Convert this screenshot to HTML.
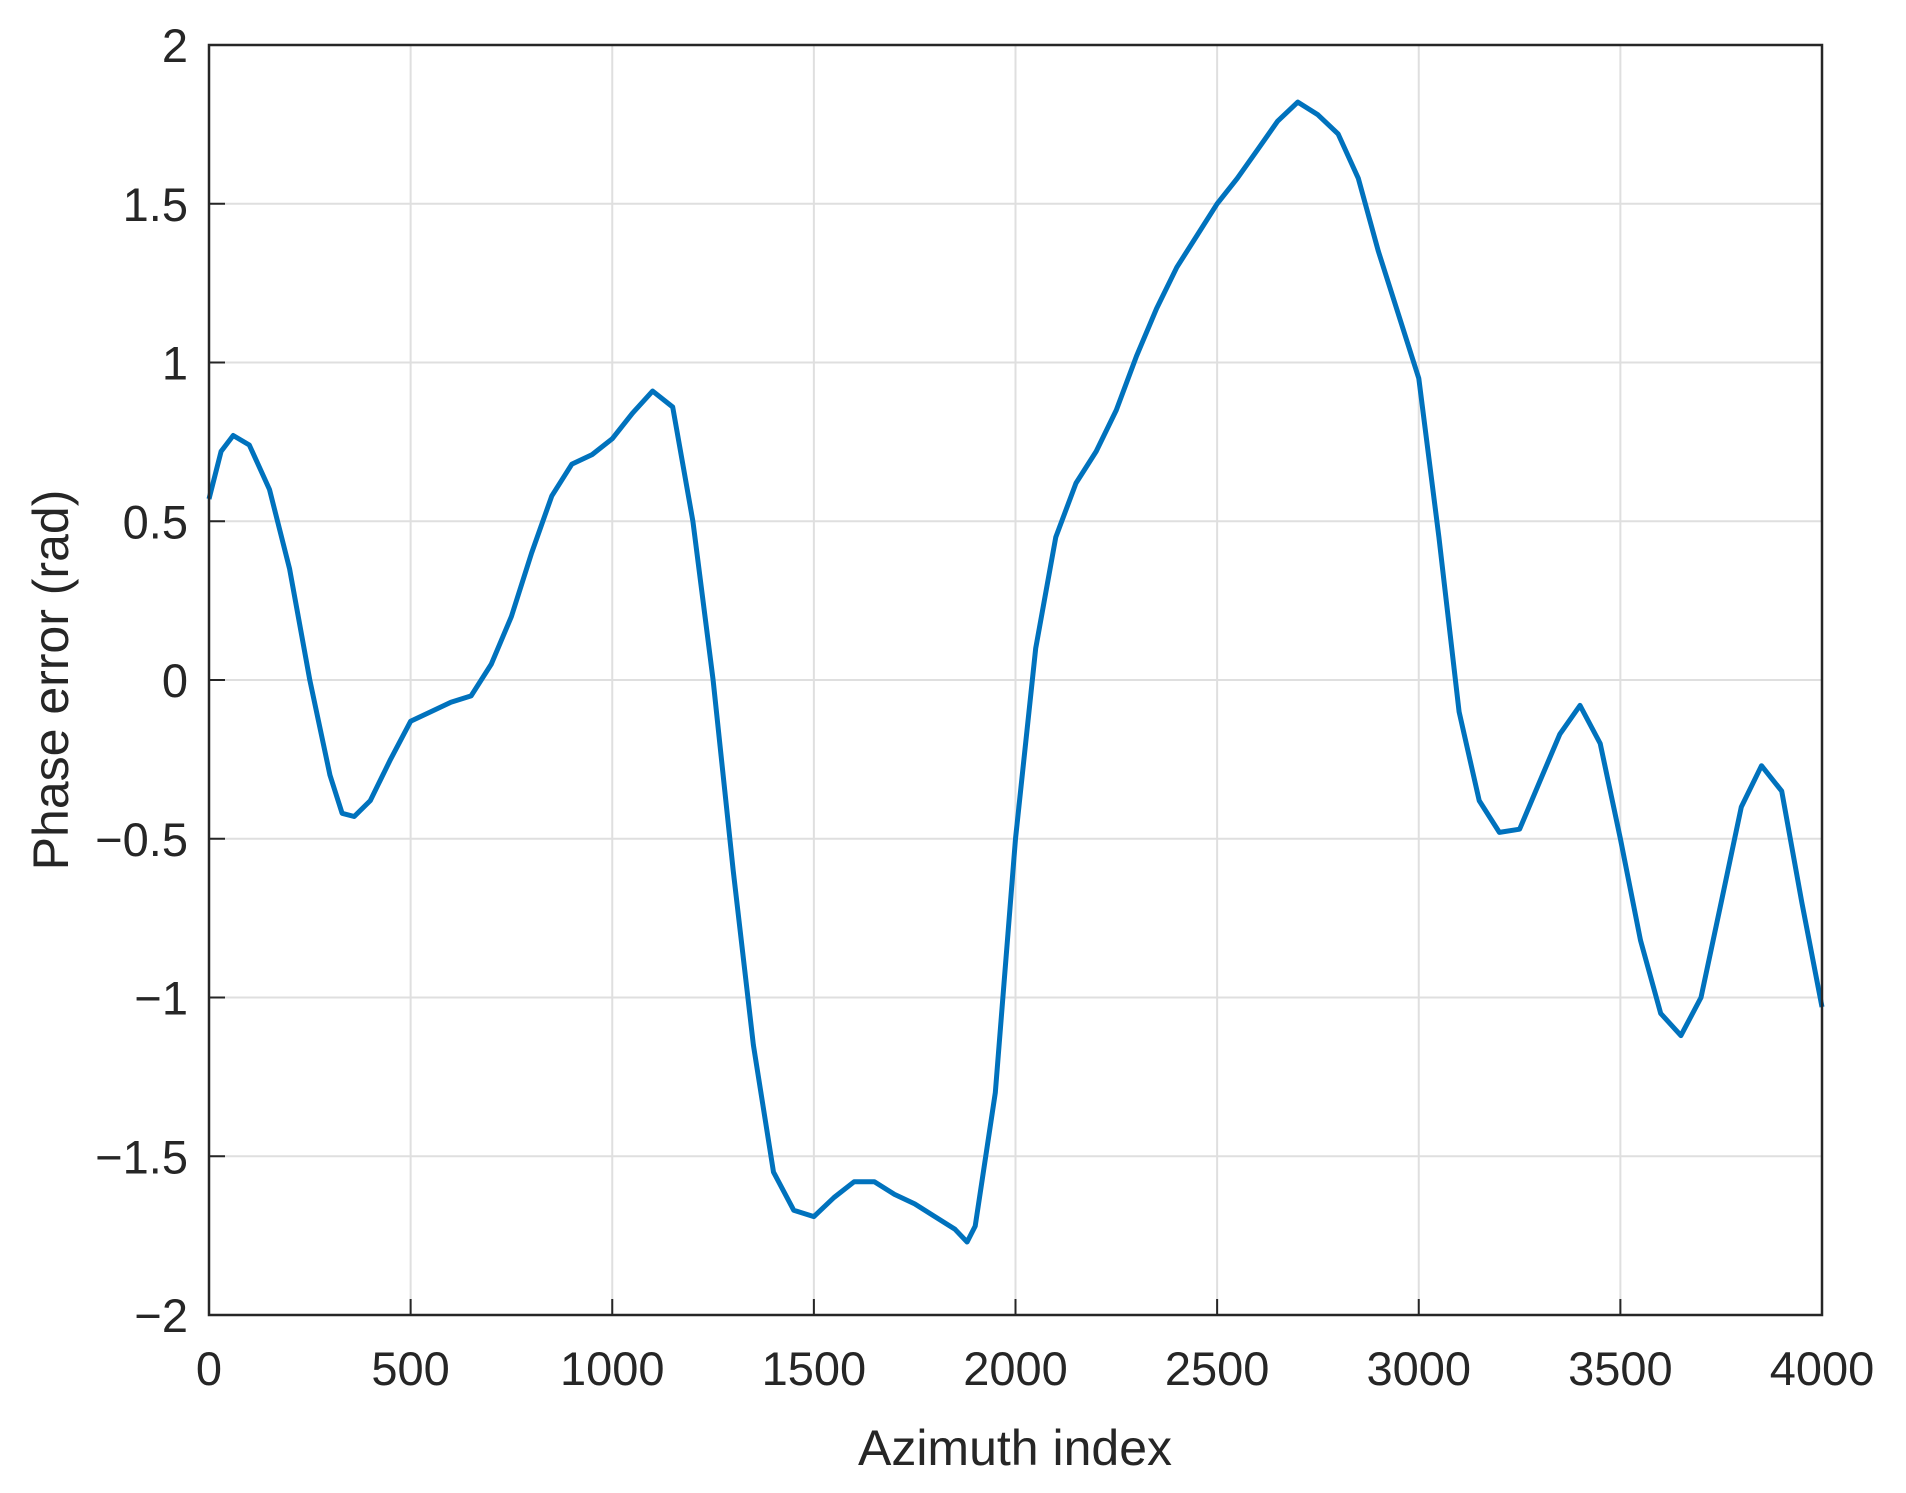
<!DOCTYPE html>
<html><head><meta charset="utf-8"><style>
body{margin:0;background:#fff}
svg{display:block}
text{font-family:"Liberation Sans",Arial,sans-serif;fill:#262626}
</style></head><body>
<svg id="chart" width="1906" height="1493" viewBox="0 0 1906 1493" xmlns="http://www.w3.org/2000/svg">
<g id="grid"></g>
<g id="xticks"></g>
<g id="yticks"></g>
<path id="series" fill="none" stroke="#0072BD" stroke-width="5" stroke-linejoin="round"/>
<rect x="209" y="45" width="1613" height="1270" fill="none" stroke="#262626" stroke-width="2.5"/>
<text x="1015" y="1465" font-size="50" text-anchor="middle">Azimuth index</text>
<text transform="translate(68,680) rotate(-90)" font-size="50" text-anchor="middle">Phase error (rad)</text>
</svg>
<script>
const xTicks=[0,500,1000,1500,2000,2500,3000,3500,4000];
const yTicks=[-2,-1.5,-1,-0.5,0,0.5,1,1.5,2];
const yTickLabels=["\u22122","\u22121.5","\u22121","\u22120.5","0","0.5","1","1.5","2"];
const azimuth=[0,30,60,100,150,200,250,300,330,360,400,450,500,550,600,650,700,750,800,850,900,950,1000,1050,1100,1150,1200,1250,1300,1350,1400,1450,1500,1550,1600,1650,1700,1750,1800,1850,1880,1900,1950,2000,2050,2100,2150,2200,2250,2300,2350,2400,2450,2500,2550,2600,2650,2700,2750,2800,2850,2900,2950,3000,3050,3100,3150,3200,3250,3300,3350,3400,3450,3500,3550,3600,3650,3700,3750,3800,3850,3900,3950,4000];
const phaseError=[0.57,0.72,0.77,0.74,0.6,0.35,0.0,-0.3,-0.42,-0.43,-0.38,-0.25,-0.13,-0.1,-0.07,-0.05,0.05,0.2,0.4,0.58,0.68,0.71,0.76,0.84,0.91,0.86,0.5,0.0,-0.6,-1.15,-1.55,-1.67,-1.69,-1.63,-1.58,-1.58,-1.62,-1.65,-1.69,-1.73,-1.77,-1.72,-1.3,-0.5,0.1,0.45,0.62,0.72,0.85,1.02,1.17,1.3,1.4,1.5,1.58,1.67,1.76,1.82,1.78,1.72,1.58,1.35,1.15,0.95,0.45,-0.1,-0.38,-0.48,-0.47,-0.32,-0.17,-0.08,-0.2,-0.5,-0.82,-1.05,-1.12,-1.0,-0.7,-0.4,-0.27,-0.35,-0.7,-1.03];
const L=209,R=1822,T=45,B=1315;
const xs=v=>L+(v-0)/(4000)*(R-L);
const ys=v=>B-(v+2)/4*(B-T);
const NS="http://www.w3.org/2000/svg";
function mk(tag,attrs,parent){const e=document.createElementNS(NS,tag);for(const k in attrs)e.setAttribute(k,attrs[k]);parent.appendChild(e);return e;}
const g=document.getElementById('grid'),gx=document.getElementById('xticks'),gy=document.getElementById('yticks');
xTicks.forEach(t=>{const x=xs(t);
 const l=mk('line',{x1:x,x2:x,y1:T,y2:B,stroke:'#dfdfdf','stroke-width':2},g);
 
 
 const tk=mk('line',{x1:x,x2:x,y1:B,y2:B-16,stroke:'#262626','stroke-width':2},gx);
 
 
 const tx=mk('text',{x:x,y:1385,'font-size':47,'text-anchor':'middle'},gx);tx.textContent=t;
 
 
});
yTicks.forEach((t,i)=>{const y=ys(t);
 const l=mk('line',{x1:L,x2:R,y1:y,y2:y,stroke:'#dfdfdf','stroke-width':2},g);
 
 
 const tk=mk('line',{x1:L,x2:L+16,y1:y,y2:y,stroke:'#262626','stroke-width':2},gy);
 
 
 const tx=mk('text',{x:188,y:y+17,'font-size':47,'text-anchor':'end'},gy);tx.textContent=yTickLabels[i];
 
 
});
document.getElementById('series').setAttribute('d',azimuth.map((a,i)=>(i?'L':'M')+xs(a).toFixed(1)+','+ys(phaseError[i]).toFixed(1)).join(''));
</script>
</body></html>
